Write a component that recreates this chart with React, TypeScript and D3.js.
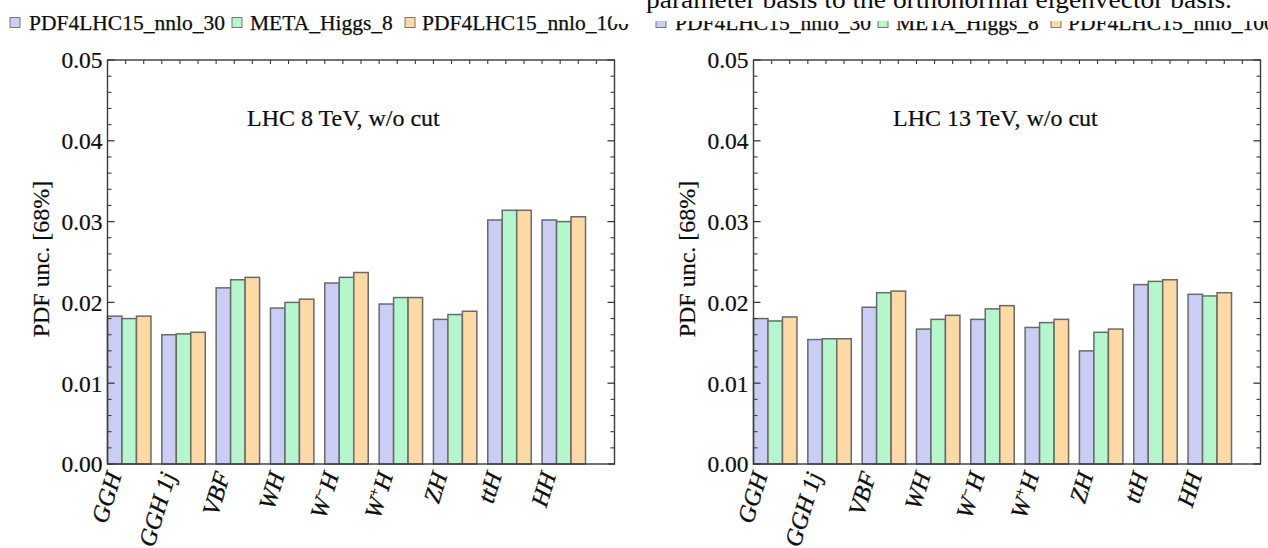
import React from 'react';
import * as d3 from 'd3';

const categories = ["GGH", "GGH 1j", "VBF", "WH", "W-H", "W+H", "ZH", "ttH", "HH"];
const seriesNames = ["PDF4LHC15_nnlo_30", "META_Higgs_8", "PDF4LHC15_nnlo_100"];
const seriesColors = ["#cacdf4", "#b5f6cd", "#fdd9a5"];

const pdf30_8TeV = [0.0183, 0.0160, 0.0218, 0.0193, 0.0224, 0.0198, 0.0179, 0.0302, 0.0302];
const meta8_8TeV = [0.0180, 0.0161, 0.0228, 0.0200, 0.0231, 0.0206, 0.0185, 0.0314, 0.0300];
const pdf100_8TeV = [0.0183, 0.0163, 0.0231, 0.0204, 0.0237, 0.0206, 0.0189, 0.0314, 0.0306];

const pdf30_13TeV = [0.0180, 0.0154, 0.0194, 0.0167, 0.0179, 0.0169, 0.0140, 0.0222, 0.0210];
const meta8_13TeV = [0.0177, 0.0155, 0.0212, 0.0179, 0.0192, 0.0175, 0.0163, 0.0226, 0.0208];
const pdf100_13TeV = [0.0182, 0.0155, 0.0214, 0.0184, 0.0196, 0.0179, 0.0167, 0.0228, 0.0212];

const yTicks = [0, 0.01, 0.02, 0.03, 0.04, 0.05];
const yTickLabels = ["0.00", "0.01", "0.02", "0.03", "0.04", "0.05"];
const panelTitles = ["LHC 8 TeV, w/o cut", "LHC 13 TeV, w/o cut"];
const yAxisLabel = "PDF unc. [68%]";
const paperText = "parameter basis to the orthonormal eigenvector basis.";

const FONT = "'Liberation Serif', 'DejaVu Serif', serif";
const FRAME = "#3a3a3a";
const TEXT = "#0d0d0d";

function CatLabel({ name }: { name: string }) {
  if (name === "GGH 1j") {
    return (<>GGH 1<tspan fontStyle="italic">j</tspan></>);
  }
  if (name === "W-H" || name === "W+H") {
    const sign = name === "W-H" ? "\u2212" : "+";
    return (<>W<tspan dy={-9} fontSize={14}>{sign}</tspan><tspan dy={9}>H</tspan></>);
  }
  return <>{name}</>;
}

function Legend({ dx }: { dx: number }) {
  const sq = [10, 232, 405];
  const tx = [29, 250, 422];
  return (
    <g>
      {seriesNames.map((n, i) => (
        <g key={n}>
          <rect x={sq[i] + dx} y={17.5} width={10} height={10} fill={seriesColors[i]} stroke="#777" strokeWidth={1} />
          <text x={tx[i] + dx} y={30} fontFamily={FONT} fontSize={21.5} fill={TEXT} stroke={TEXT} strokeWidth={0.25}>{n}</text>
        </g>
      ))}
    </g>
  );
}

function Panel({ dx, title, data }: { dx: number; title: string; data: number[][] }) {
  const x = d3.scaleLinear().domain([0, 28]).range([107.5 + dx, 614.5 + dx]);
  const y = d3.scaleLinear().domain([0, 0.05]).range([464, 60]);
  const barW = 0.8;
  const minor = d3.range(0, 51, 2).filter((k) => k % 10 !== 0).map((k) => k / 1000);
  const topTicks = d3.range(1, 28);
  return (
    <g>
      {data.map((series, j) =>
        series.map((v, i) => {
          const x0 = x(3 * i + barW * j);
          const x1 = x(3 * i + barW * (j + 1));
          return (
            <rect key={`${j}-${i}`} x={x0} y={y(v)} width={x1 - x0} height={y(0) - y(v)}
              fill={seriesColors[j]} stroke="#6a6a6a" strokeWidth={1.5} />
          );
        })
      )}
      <rect x={x(0)} y={y(0.05)} width={x(28) - x(0)} height={y(0) - y(0.05)} fill="none" stroke={FRAME} strokeWidth={1.4} />
      {yTicks.map((t) => (
        <g key={t}>
          <line x1={x(0)} x2={x(0) + 7} y1={y(t)} y2={y(t)} stroke={FRAME} strokeWidth={1.3} />
          <line x1={x(28)} x2={x(28) - 7} y1={y(t)} y2={y(t)} stroke={FRAME} strokeWidth={1.3} />
        </g>
      ))}
      {minor.map((t) => (
        <g key={t}>
          <line x1={x(0)} x2={x(0) + 4} y1={y(t)} y2={y(t)} stroke={FRAME} strokeWidth={1.1} />
          <line x1={x(28)} x2={x(28) - 4} y1={y(t)} y2={y(t)} stroke={FRAME} strokeWidth={1.1} />
        </g>
      ))}
      {topTicks.map((k) => (
        <line key={k} x1={x(k)} x2={x(k)} y1={y(0.05)} y2={y(0.05) + 4} stroke={FRAME} strokeWidth={1.1} />
      ))}
      {yTicks.map((t, i) => (
        <text key={t} x={x(0) - 5} y={y(t)} dy="0.36em" textAnchor="end" fontFamily={FONT} fontSize={23.5}
          fill={TEXT} stroke={TEXT} strokeWidth={0.2}>
          {yTickLabels[i]}
        </text>
      ))}
      <text x={247 + dx} y={126} fontFamily={FONT} fontSize={24} fill={TEXT} stroke={TEXT} strokeWidth={0.2}>{title}</text>
      <text transform={`translate(${41 + dx},259) rotate(-90)`} textAnchor="middle" dy="0.35em" fontFamily={FONT} fontSize={24}
        fill={TEXT} stroke={TEXT} strokeWidth={0.2}>
        {yAxisLabel}
      </text>
      {categories.map((c, i) => {
        const cx = x(3 * i + 1.2) - 24;
        return (
          <text key={c} transform={`translate(${cx},470) rotate(-73)`} textAnchor="end" dy="0.72em"
            fontFamily={FONT} fontSize={24} fontStyle="italic" fill={TEXT} stroke={TEXT} strokeWidth={0.3}>
            <CatLabel name={c} />
          </text>
        );
      })}
    </g>
  );
}

export default function App() {
  const data8 = [pdf30_8TeV, meta8_8TeV, pdf100_8TeV];
  const data13 = [pdf30_13TeV, meta8_13TeV, pdf100_13TeV];
  return (
    <svg width={1268} height={548} style={{ position: 'absolute', left: 0, top: 0, background: '#fff' }}>
      <defs>
        <clipPath id="rightLegendClip">
          <rect x={612} y={21} width={656} height={40} />
        </clipPath>
      </defs>
      <rect x={0} y={0} width={1268} height={548} fill="#fff" />
      <Legend dx={0} />
      <Panel dx={0} title={panelTitles[0]} data={data8} />
      <rect x={612} y={0} width={656} height={24} fill="#fff" />
      <text x={646} y={8} fontFamily={FONT} fontSize={26} textLength={586} lengthAdjust="spacingAndGlyphs" fill={TEXT}>
        {paperText}
      </text>
      <g clipPath="url(#rightLegendClip)">
        <Legend dx={646} />
      </g>
      <Panel dx={646} title={panelTitles[1]} data={data13} />
    </svg>
  );
}
